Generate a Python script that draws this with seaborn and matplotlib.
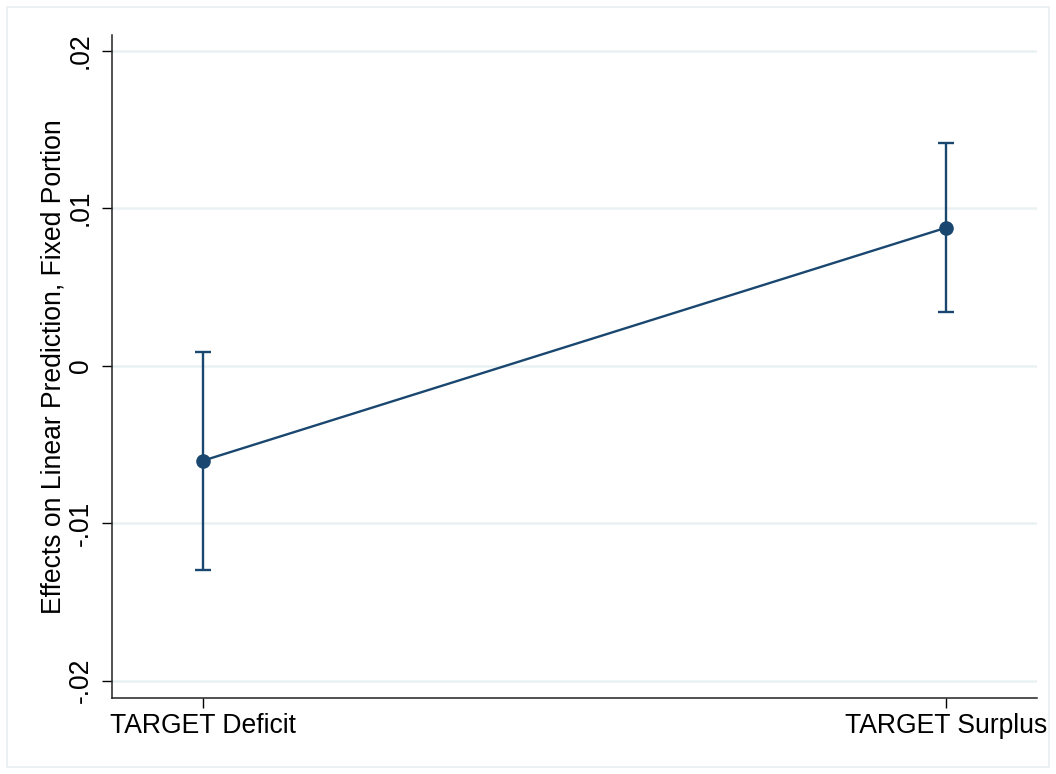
import seaborn as sns
import matplotlib.pyplot as plt
import pandas as pd
import numpy as np
from matplotlib.patches import Rectangle

# values
categories = ["TARGET Deficit", "TARGET Surplus"]
estimates = [-0.00603, 0.00876]
ci_lower = [-0.01295, 0.00343]
ci_upper = [0.00089, 0.01416]
y_ticks = [-0.02, -0.01, 0.0, 0.01, 0.02]
y_tick_labels = ["-.02", "-.01", "0", ".01", ".02"]

navy = "#1a476f"
font_size = 19.1

sns.set_theme(style="white")
plt.rcParams["font.family"] = ["Liberation Sans", "DejaVu Sans"]

df = pd.DataFrame({"pos": np.arange(len(categories)), "est": estimates})

fig = plt.figure(figsize=(10.56, 7.74), dpi=100)
ax = fig.add_axes([0.1061, 0.0982, 0.8759, 0.8566])

# thin outer frame like the original export
fig.patches.append(Rectangle((7 / 1056, 7 / 774), 1042 / 1056, 760 / 774,
                             transform=fig.transFigure, fill=False,
                             edgecolor="#e8eff1", linewidth=1.2))

sns.lineplot(data=df, x="pos", y="est", color=navy, linewidth=1.7,
             marker="o", markersize=10.5, markeredgewidth=0, ax=ax)
err = [np.array(estimates) - np.array(ci_lower), np.array(ci_upper) - np.array(estimates)]
ax.errorbar(df["pos"], estimates, yerr=err, fmt="none", ecolor=navy,
            elinewidth=1.7, capsize=6, capthick=1.7, zorder=2)

ax.set_xlim(-0.1225, 1.1225)
ax.set_ylim(-0.0211, 0.0210)
ax.set_xticks(df["pos"])
ax.set_xticklabels(categories)
ax.set_yticks(y_ticks)
ax.set_yticklabels(y_tick_labels, rotation=90, va="center")
ax.set_xlabel("")
ax.set_ylabel("Effects on Linear Prediction, Fixed Portion", fontsize=font_size,
              labelpad=1, color="black")

for y in y_ticks:
    ax.axhline(y, color="#eaf1f3", linewidth=1.8, zorder=0)

ax.tick_params(axis="both", labelsize=font_size, colors="black", direction="out",
               length=7, width=1, left=True, bottom=True)
ax.tick_params(axis="x", pad=4)
ax.tick_params(axis="y", pad=6)
for s in ["top", "right"]:
    ax.spines[s].set_visible(False)
for s in ["left", "bottom"]:
    ax.spines[s].set_color("#222222")
    ax.spines[s].set_linewidth(1.1)

fig.savefig("out.png", dpi=100)
